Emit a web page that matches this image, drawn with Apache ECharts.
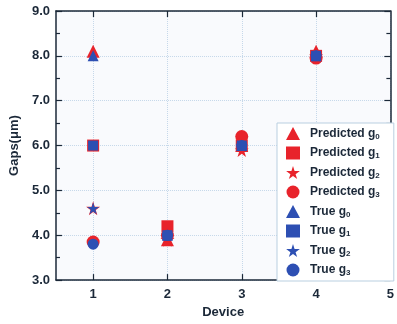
<!DOCTYPE html>
<html>
<head>
<meta charset="utf-8">
<script src="https://cdn.jsdelivr.net/npm/echarts@6/dist/echarts.min.js"></script>
<style>
  html, body { margin: 0; padding: 0; background: #ffffff; }
  #main { width: 397px; height: 324px; }
</style>
</head>
<body>
<div id="main"></div>
<script>
// device index on x
const devices = [1, 2, 3, 4];
const xTicks = [1, 2, 3, 4, 5];

// gap values (um)
const predG0 = [8.1, 3.9, 6.0, 8.1];
const predG1 = [6.0, 4.2, 6.0, 8.0];
const predG2 = [4.6, 3.9, 5.9, 8.0];
const predG3 = [3.85, 4.0, 6.2, 7.95];
const trueG0 = [8.0, 4.0, 6.0, 8.0];
const trueG1 = [6.0, 4.0, 6.0, 8.0];
const trueG2 = [4.6, 4.0, 6.0, 8.0];
const trueG3 = [3.8, 4.0, 6.0, 8.0];

const RED = '#e8232b';
const BLUE = '#2d4fb3';
const INK = '#1b2838';
const STAR = 'path://M50,0 L61,35 L98,35 L68,57 L79,91 L50,70 L21,91 L32,57 L2,35 L39,35 Z';

const pairs = (vals) => devices.map((d, i) => [d, vals[i]]);

const mk = (name, vals, symbol, size, color) => ({
  name: name,
  type: 'scatter',
  symbol: symbol,
  symbolSize: size,
  itemStyle: { color: color, opacity: 1 },
  data: pairs(vals),
  xAxisIndex: 0,
  yAxisIndex: 0,
});

const chart = echarts.init(document.getElementById('main'), null, { renderer: 'canvas' });

const option = {
  backgroundColor: '#ffffff',
  animation: false,
  textStyle: { fontFamily: 'Liberation Sans, Arial, sans-serif' },
  grid: {
    left: 54, right: 3, top: 11, bottom: 39,
    show: true, backgroundColor: '#f9fafd', borderWidth: 0,
  },
  legend: {
    orient: 'vertical',
    left: 277, top: 123,
    itemWidth: 14, itemHeight: 13, itemGap: 6,
    padding: [4, 14, 4, 9],
    backgroundColor: '#ffffff',
    borderColor: '#b9cfe0', borderWidth: 1,
    textStyle: {
      fontSize: 12, fontWeight: 'bold', color: INK, padding: [0, 0, 0, 5],
      rich: {
        s: { fontSize: 8, fontWeight: 'bold', color: INK, verticalAlign: 'bottom', lineHeight: 14 },
      },
    },
    formatter: (name) => name.replace(/g(\d)$/, 'g{s|$1}'),
    data: [
      { name: 'Predicted g0', icon: 'triangle' },
      { name: 'Predicted g1', icon: 'rect' },
      { name: 'Predicted g2', icon: STAR },
      { name: 'Predicted g3', icon: 'circle' },
      { name: 'True g0', icon: 'triangle' },
      { name: 'True g1', icon: 'rect' },
      { name: 'True g2', icon: STAR },
      { name: 'True g3', icon: 'circle' },
    ],
  },
  xAxis: [
    {
      type: 'value', min: 0.5, max: 5,
      name: 'Device', nameLocation: 'middle', nameGap: 25,
      nameTextStyle: { fontSize: 13, fontWeight: 'bold', color: INK },
      axisLine: { lineStyle: { color: INK, width: 1.5 } },
      axisTick: { inside: true, length: 6, customValues: xTicks, lineStyle: { color: INK, width: 1.2 } },
      axisLabel: { customValues: xTicks, fontSize: 13, fontWeight: 'bold', color: INK, margin: 8 },
      splitLine: { show: true, lineStyle: { color: '#c6d8ea', type: 'dotted', width: 1 } },
    },
    {
      type: 'value', min: 0.5, max: 5, position: 'top',
      axisLine: { show: true, lineStyle: { color: INK, width: 1.5 } },
      axisTick: { inside: true, length: 6, customValues: [1, 2, 3, 4], lineStyle: { color: INK, width: 1.2 } },
      axisLabel: { show: false },
      splitLine: { show: false },
    },
  ],
  yAxis: [
    {
      type: 'value', min: 3, max: 9, interval: 1,
      name: 'Gaps(\u03bcm)', nameLocation: 'middle', nameGap: 34,
      nameTextStyle: { fontSize: 13, fontWeight: 'bold', color: INK },
      axisLine: { show: true, lineStyle: { color: INK, width: 1.5 } },
      axisTick: { inside: true, length: 6, lineStyle: { color: INK, width: 1.2 } },
      minorTick: { show: true, splitNumber: 2, length: 4, lineStyle: { color: INK, width: 1.2 } },
      axisLabel: { fontSize: 13, fontWeight: 'bold', color: INK, margin: 6, formatter: (v) => v.toFixed(1) },
      splitLine: { show: true, lineStyle: { color: '#c6d8ea', type: 'dotted', width: 1 } },
    },
    {
      type: 'value', min: 3, max: 9, interval: 1, position: 'right',
      axisLine: { show: true, lineStyle: { color: INK, width: 1.5 } },
      axisTick: { inside: true, length: 6, lineStyle: { color: INK, width: 1.2 } },
      minorTick: { show: true, splitNumber: 2, length: 4, lineStyle: { color: INK, width: 1.2 } },
      axisLabel: { show: false },
      splitLine: { show: false },
    },
  ],
  series: [
    mk('Predicted g0', predG0, 'triangle', 13, RED),
    mk('Predicted g1', predG1, 'rect', 12, RED),
    mk('Predicted g2', predG2, STAR, 14, RED),
    mk('Predicted g3', predG3, 'circle', 13, RED),
    mk('True g0', trueG0, 'triangle', 11, BLUE),
    mk('True g1', trueG1, 'rect', 10, BLUE),
    mk('True g2', trueG2, STAR, 12, BLUE),
    mk('True g3', trueG3, 'circle', 11, BLUE),
  ],
};

chart.setOption(option);
</script>
</body>
</html>
